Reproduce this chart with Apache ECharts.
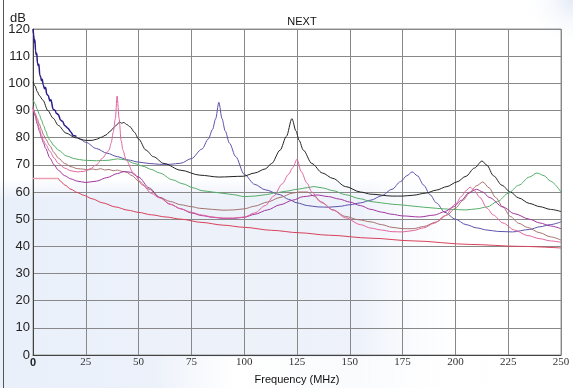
<!DOCTYPE html>
<html>
<head>
<meta charset="utf-8">
<script src="https://cdn.jsdelivr.net/npm/echarts@6/dist/echarts.min.js"></script>
<style>
  html, body { margin: 0; padding: 0; background: #fff; }
  #chart { width: 573px; height: 388px; }
</style>
</head>
<body>
<div id="chart"></div>
<script>
// frequency (MHz) / level (dB) pairs
const navyPts = [[0,120],[0.3,118],[0.6,115],[0.9,116],[1.2,112],[1.5,110.5],[1.8,111],[2.1,107.5],[2.5,106.5],[2.8,107],[3.2,103],[3.6,102.5],[4,101],[4.4,101.5],[4.8,99.5],[5.5,98],[6,98.5],[6.5,96],[7.2,95.5],[8,93.5],[8.5,94],[9.5,90.5],[10.5,90],[11,89],[12,88.5],[13,86.5],[14,86],[15,84.5],[16.5,83.5],[18,82],[19,80.8],[20.5,80.5],[22,79.5],[25,78.3],[30,76],[35,74.3],[40,73],[45,71.8],[50,71],[55,70.5],[60,70.2],[65,70.2],[70,70.6],[75,72.3],[80,75.8],[83,79.5],[85,83],[86.5,87],[88,93],[89.5,87],[91,82.5],[93,78],[96,73],[100,66.5],[105,62.8],[110,60.8],[117,59],[121,57.3],[125,56],[130,55],[135,54.5],[140,54.4],[145,54.7],[150,55.3],[155,56],[160,57],[165,58.6],[170,61],[174,63.8],[177,66],[179.5,67.4],[182,66],[185,62.5],[188,59],[191,56],[195,52.5],[200,50],[205,48],[210,46.8],[215,46],[220,45.5],[227,45.3],[235,46.2],[240,47.2],[245,48],[250,49]];
const blackPts = [[0,100.5],[1,99],[2,97],[3,95.5],[4.7,93.8],[7,90],[9.5,87.2],[12,84.5],[15.6,81.7],[20,80],[25,79],[28,79],[30,79.4],[32.5,80.2],[34.6,81],[36.5,82.3],[38,83.5],[39.5,84.6],[41,85.8],[42,85.3],[43,85.6],[44.5,84.8],[46,84],[48,82],[50,79.5],[53.5,75.4],[57,73],[62,70.5],[70,68],[79,66.2],[88,65.5],[99.5,65.8],[105,67],[110,68.5],[113,70.5],[117,75.4],[120,80.5],[122.6,87],[124.5,82.5],[126,79],[128,75.4],[132,70.5],[137,67],[142,65],[148,62],[155,60],[160,59.2],[170,58.5],[175,58.5],[180,58.8],[186,59.6],[191,60.7],[196,62],[200.7,63.7],[205,65.8],[209,68.8],[212.6,71.4],[215,69.8],[218,66],[222,62.5],[226,60],[230,57.8],[235,55.8],[240,54.6],[245,53.6],[250,52.8]];
const greenPts = [[0,94],[1,92.5],[2,90.5],[3,88.5],[4,86.5],[5,84.5],[6,82.5],[7,80.5],[8,79],[10,77],[12,75.4],[16,73.2],[20,72.2],[24,71.7],[30,71.5],[36,71.7],[40,72.2],[44,71.8],[48,70.5],[52,69.5],[56,68.3],[60,67],[66,64.5],[71,63],[76,61.5],[80,60.5],[85,60],[90,59.5],[95,59],[100,58.3],[105,58.5],[110,59],[115,59.7],[120,60.3],[125,61],[130,61.6],[133,62],[137,61.5],[142,60.5],[148,59],[155,57.5],[160,56.5],[165,56],[170,55.5],[175,55.2],[180,54.8],[185,54.4],[191,54],[198,53.6],[205,53.4],[210,53.8],[215,54.5],[220,56.5],[225,59.5],[230,62.5],[235,65.5],[238.6,67],[242,66],[245,64],[250,60]];
const pinkPts = [[0,91],[1,88.5],[2,86],[3,83.5],[4,81],[5,79],[6,77.5],[8,75],[10,72.5],[12,70.5],[15,68.8],[18,67.8],[21,67.4],[24,67.6],[27,68.5],[30,70],[33,72.5],[35,74.5],[36,75.4],[37,78],[38,82],[39,87],[39.8,95.3],[40.8,87],[41.7,79],[42.6,75.4],[44,72],[47.5,67],[52,62.5],[56,59.5],[60,57.8],[65,55.5],[70,53.8],[75,52.5],[80,51.5],[85,50.8],[90,50.4],[95,50.4],[100,50.8],[105,52.3],[110,55],[114,58.5],[118,63],[121,66.5],[123,69],[125,72],[127,67.5],[129.7,63.3],[132,60],[136,56.5],[142,53.4],[148,50.5],[155,48],[160,46.7],[165,46],[170,45.4],[175,45.3],[180,45.8],[185,46.8],[190,48.5],[195,51.2],[200,55.5],[203,58.5],[205,60.5],[207,61.8],[209,60.5],[211.6,58],[215,54],[218,51.5],[222.5,48.6],[228,46],[234,44],[240,42.8],[245,42],[250,41.5]];
const brownPts = [[0,91.5],[1,89],[2,87],[3,85],[4,83],[5,81],[6,79.5],[8,77],[10,74.5],[12,72.5],[15,70.5],[18,69.3],[21,68.6],[24,68.4],[26,68.1],[28,68.5],[30,68.2],[32,68.6],[34,68.1],[36,68.3],[38,67.8],[40,68.1],[42,67.6],[44,67.4],[47,66],[50,64],[55,61],[60,58],[65,56.5],[70,55.3],[75,54.6],[79,54],[85,53.6],[90,53.3],[95,53.4],[100,53.8],[105,54.8],[111,56.3],[117,58],[123,59.6],[126,60],[130,60],[133,58.5],[137,56],[142,53.4],[148,51],[154,49.8],[160,49],[165,48],[170,47],[175,46.5],[180,46.5],[185,47.3],[191,49],[196,51.5],[200,54],[203.6,57],[207,60],[210,62.3],[213,63.7],[216,61.5],[219,58],[222.5,54.5],[226,51],[230,48.5],[234,47],[240,45],[245,43.5],[250,42.3]];
const magentaPts = [[0,91],[1,88],[2,85],[3,82.5],[4,80],[5,78],[6,76],[8,72.5],[10,70],[12,68],[15,66],[18,64.8],[21,64],[25,63.5],[30,64],[35,65.3],[40,66.8],[43,67.5],[46,67.3],[50,65.5],[55,61.5],[60,58],[65,55.5],[70,53.8],[75,52.3],[80,51.3],[85,50.7],[90,50.3],[95,50.3],[100,50.7],[105,51.8],[111,53.4],[117,55.3],[123,57],[128,58.3],[134.5,58.9],[140,58.3],[145,57.4],[150,56.3],[155,55],[160,53.6],[165,52.6],[170,51.8],[175,51.2],[183,50.8],[190,51.5],[195,52.8],[199,54.5],[203,57],[206,59.5],[210,61],[213,60],[216,58],[222.5,54.5],[228,52],[235,50],[240,48.6],[245,47.5],[250,46.5]];
const redPts = [[0,65],[12,65],[13,64],[15,62.6],[18,61],[21,59.8],[24,58.8],[28,57.5],[33,56],[39,54.5],[45,53.3],[50,52.5],[56,51.6],[63,50.8],[70,50],[80,48.8],[90,47.8],[100,47],[113,45.9],[126,45],[140,44.1],[160,43],[180,42],[207,40.7],[230,40],[250,39.4]];

const xTicks = [0, 25, 50, 75, 100, 125, 150, 175, 200, 225, 250];
const yTicks = [0, 10, 20, 30, 40, 50, 60, 70, 80, 90, 100, 110, 120];

const chart = echarts.init(document.getElementById('chart'));

function line(data, color, width) {
  return {
    type: 'line',
    data: data,
    showSymbol: false,
    smooth: 0.3,
    smoothMonotone: 'x',
    lineStyle: { width: width || 1, color: color },
    itemStyle: { color: color },
    animation: false
  };
}

// navy trace is darker/heavier at low frequency, the limit part of red is pale
const navyLow = navyPts.filter(p => p[0] <= 20.5);
const navyHigh = navyPts.filter(p => p[0] >= 20.5);
const redFlat = redPts.filter(p => p[0] <= 12);
const redCurve = redPts.filter(p => p[0] >= 12);

const option = {
  animation: false,
  title: {
    text: 'NEXT',
    left: 297,
    top: 11,
    textAlign: 'center',
    textStyle: { fontSize: 11, fontWeight: 'normal', color: '#111', fontFamily: 'Liberation Sans' }
  },
  graphic: [
    {
      type: 'rect', z: -10, silent: true,
      shape: { x: 0, y: 180, width: 480, height: 208 },
      style: {
        fill: new echarts.graphic.LinearGradient(0, 0, 1, 0, [
          { offset: 0, color: '#eaf0fa' },
          { offset: 0.75, color: '#eef2fa' },
          { offset: 1, color: 'rgba(255,255,255,0)' }
        ])
      }
    },
    {
      type: 'rect', z: -9, silent: true,
      shape: { x: 0, y: 178, width: 480, height: 20 },
      style: {
        fill: new echarts.graphic.LinearGradient(0, 0, 0, 1, [
          { offset: 0, color: '#ffffff' },
          { offset: 1, color: 'rgba(255,255,255,0)' }
        ])
      }
    },
    {
      type: 'rect', z: -8, silent: true,
      shape: { x: 150, y: 357, width: 340, height: 31 },
      style: {
        fill: new echarts.graphic.LinearGradient(0, 0, 1, 0, [
          { offset: 0, color: 'rgba(255,255,255,0)' },
          { offset: 0.25, color: '#ffffff' },
          { offset: 0.7, color: 'rgba(255,255,255,0.6)' },
          { offset: 1, color: '#ffffff' }
        ])
      }
    },
    {
      type: 'circle', z: -10, silent: true,
      shape: { cx: 573, cy: 0, r: 50 },
      style: {
        fill: new echarts.graphic.RadialGradient(0.5, 0.5, 0.5, [
          { offset: 0, color: '#e4eaf7' },
          { offset: 1, color: 'rgba(255,255,255,0)' }
        ])
      }
    },
    {
      type: 'line', z: 10, silent: true,
      shape: { x1: 3.5, y1: 0, x2: 3.5, y2: 388 },
      style: { stroke: '#555', lineWidth: 1 }
    },
    {
      // unit label sits over the top tick label, as in the original
      type: 'text', z: 10, silent: true,
      left: 10, top: 12,
      style: { text: 'dB', fontSize: 13, fill: '#222', fontFamily: 'Liberation Sans' }
    }
  ],
  grid: {
    left: 33, right: 12, top: 29, bottom: 33,
    outerBoundsMode: 'none',
    show: true, borderColor: '#999', borderWidth: 1, backgroundColor: 'transparent'
  },
  xAxis: {
    type: 'value',
    min: xTicks[0], max: xTicks[xTicks.length - 1], interval: 25,
    name: 'Frequency (MHz)',
    nameLocation: 'middle',
    nameGap: 19,
    nameTextStyle: { fontSize: 11, color: '#111', fontFamily: 'Liberation Sans' },
    axisLine: { lineStyle: { color: '#444' } },
    axisTick: { show: false },
    splitLine: { show: true, lineStyle: { color: '#888', width: 1 } },
    axisLabel: {
      margin: 2,
      fontSize: 11,
      color: '#333',
      fontFamily: 'Liberation Serif',
      formatter: v => v === 0 ? '{z|0}' : String(v),
      rich: { z: { fontFamily: 'Liberation Sans', fontWeight: 'bold', fontSize: 11, color: '#222' } }
    }
  },
  yAxis: {
    type: 'value',
    min: yTicks[0], max: yTicks[yTicks.length - 1], interval: 10,
    axisLine: { show: true, lineStyle: { color: '#444' } },
    axisTick: { show: false },
    splitLine: { show: true, lineStyle: { color: '#888', width: 1 } },
    axisLabel: { margin: 3, fontSize: 13, color: '#222', fontFamily: 'Liberation Sans' }
  },
  series: [
    line(navyLow, '#2a1d8c', 1.5),
    line(navyHigh, '#5c52aa'),
    line(blackPts, '#222222'),
    line(greenPts, '#55ad68'),
    line(brownPts, '#a5726e'),
    line(magentaPts, '#a2369e'),
    line(pinkPts, '#e2649e'),
    line(redFlat, '#eba0b2', 1.5),
    line(redCurve, '#d9415a')
  ]
};

chart.setOption(option);
</script>
</body>
</html>
